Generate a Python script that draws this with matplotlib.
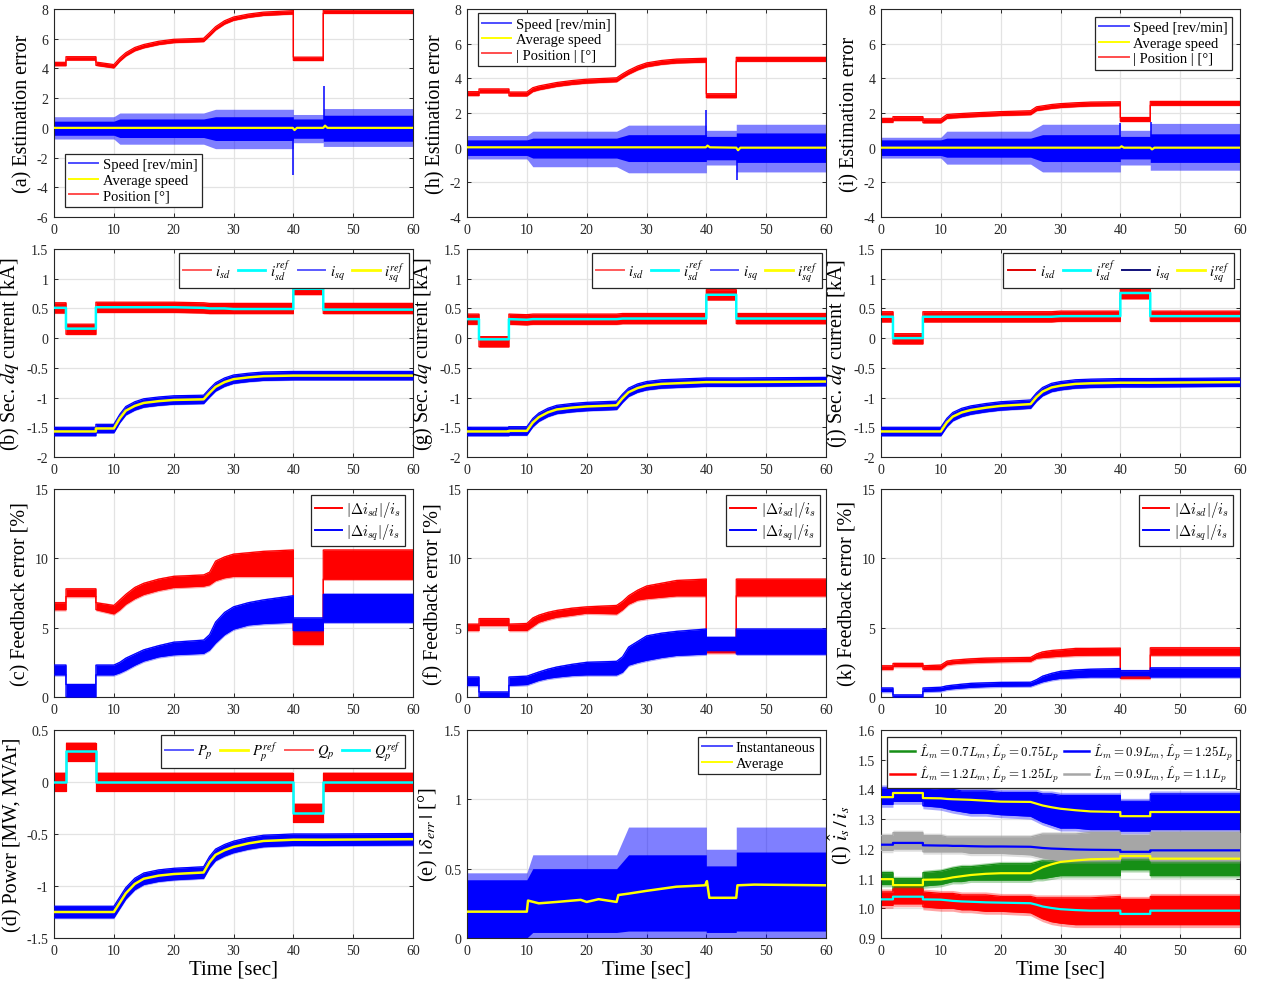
import matplotlib
matplotlib.use("Agg")
import matplotlib.pyplot as plt
from matplotlib.lines import Line2D
from matplotlib.font_manager import FontProperties
import numpy as np

plt.rcParams["font.family"] = ["Liberation Serif", "DejaVu Serif"]
plt.rcParams["mathtext.fontset"] = "stix"
plt.rcParams["axes.unicode_minus"] = False

# ── colours ─────────────────────────────────────────────────────────────────
BLUE, RED, YEL, CYAN = "#0000ff", "#ff0000", "#ffff00", "#00ffff"
GREEN, GRAY = "#168f16", "#a6a6a6"
INK = "#262626"

# ── common time grid (steps at 2, 7, 40, 45 s; ramps from 10 and 25 s) ─────
T = [0, 2, 2, 7, 7, 10, 11, 12, 13.5, 15, 17.5, 20, 25, 26, 27, 28.5, 30, 32.5, 35, 40, 40, 45, 45, 60]

# ── (a)(h)(i) estimation error ──────────────────────────────────────────────
POS_A = [4.3, 4.3, 4.68, 4.68, 4.32, 4.15, 4.6, 4.95, 5.3, 5.5, 5.72, 5.85, 5.92, 6.3, 6.7, 7.1, 7.35, 7.55, 7.68, 7.78, 4.65, 4.65, 7.82, 7.82]
POS_H = [3.12, 3.12, 3.28, 3.28, 3.1, 3.1, 3.35, 3.45, 3.55, 3.65, 3.76, 3.84, 3.92, 4.15, 4.35, 4.6, 4.78, 4.92, 5.0, 5.05, 3.0, 3.0, 5.1, 5.1]
POS_I = [1.58, 1.58, 1.68, 1.68, 1.55, 1.55, 1.8, 1.83, 1.86, 1.89, 1.93, 1.97, 2.02, 2.25, 2.3, 2.38, 2.43, 2.48, 2.52, 2.54, 1.63, 1.63, 2.56, 2.56]
POS_HW = 0.11

# speed-error envelopes: dense core and sparse spike envelope
TS = [0, 10, 11, 25, 27, 40, 40, 45, 45, 60]
SPD_A_CORE = ([-0.5, -0.5, -0.65, -0.65, -0.85, -0.85, -0.7, -0.7, -0.9, -0.9],
              [0.45, 0.45, 0.6, 0.6, 0.75, 0.75, 0.6, 0.6, 0.85, 0.85])
SPD_A_OUT = ([-0.75, -0.75, -1.1, -1.1, -1.4, -1.4, -1.0, -1.0, -1.25, -1.25],
             [0.75, 0.75, 1.0, 1.0, 1.25, 1.25, 0.9, 0.9, 1.3, 1.3])
SPD_H_CORE = ([-0.45, -0.45, -0.6, -0.6, -0.8, -0.8, -0.7, -0.7, -0.85, -0.85],
              [0.45, 0.45, 0.55, 0.55, 0.75, 0.75, 0.65, 0.65, 0.85, 0.85])
SPD_H_OUT = ([-0.65, -0.65, -1.1, -1.1, -1.45, -1.45, -1.0, -1.0, -1.4, -1.4],
             [0.7, 0.7, 0.95, 0.95, 1.3, 1.3, 1.0, 1.0, 1.35, 1.35])
SPD_I_CORE = ([-0.45, -0.45, -0.55, -0.55, -0.8, -0.8, -0.65, -0.65, -0.85, -0.85],
              [0.45, 0.45, 0.55, 0.55, 0.75, 0.75, 0.65, 0.65, 0.8, 0.8])
SPD_I_OUT = ([-0.6, -0.6, -0.95, -0.95, -1.4, -1.4, -1.0, -1.0, -1.3, -1.3],
             [0.6, 0.6, 0.95, 0.95, 1.35, 1.35, 1.0, 1.0, 1.4, 1.4])
SPIKE_A = ([40.0, 45.2], [-3.2, 2.8])
SPIKE_H = ([40.0, 45.1], [2.2, -1.85])
SPIKE_I = ([40.0, 45.1], [1.4, 1.5])

AVG_T = [0, 39.9, 40.2, 40.6, 45.0, 45.3, 45.7, 60]
AVG_A = [0, 0, -0.15, 0, 0, 0.15, 0, 0]
AVG_H = [0.02, 0.02, 0.12, 0.02, 0.0, -0.15, 0.0, 0.0]
AVG_I = [0, 0, 0.08, 0, 0, -0.1, 0, 0]

# ── (b)(g)(j) secondary dq currents ─────────────────────────────────────────
ISD_REF_B = [0.51, 0.51, 0.16, 0.16, 0.52, 0.52, 0.52, 0.52, 0.52, 0.52, 0.52, 0.52, 0.51, 0.5, 0.5, 0.5, 0.49, 0.49, 0.49, 0.49, 0.83, 0.83, 0.48, 0.48]
ISD_B = [0.51, 0.51, 0.15, 0.15, 0.52, 0.52, 0.52, 0.52, 0.52, 0.52, 0.52, 0.52, 0.51, 0.5, 0.5, 0.5, 0.5, 0.5, 0.5, 0.5, 0.82, 0.82, 0.5, 0.5]
ISQ_REF_B = [-1.57, -1.57, -1.57, -1.57, -1.52, -1.52, -1.35, -1.22, -1.14, -1.09, -1.06, -1.04, -1.03, -0.92, -0.82, -0.74, -0.69, -0.66, -0.64, -0.63, -0.63, -0.63, -0.63, -0.63]

ISD_REF_G = [0.32, 0.32, -0.02, -0.02, 0.32, 0.31, 0.32, 0.32, 0.32, 0.32, 0.32, 0.32, 0.32, 0.33, 0.33, 0.33, 0.33, 0.33, 0.33, 0.33, 0.73, 0.73, 0.33, 0.33]
ISD_G = [0.32, 0.32, -0.06, -0.06, 0.32, 0.31, 0.32, 0.32, 0.32, 0.32, 0.32, 0.32, 0.32, 0.33, 0.33, 0.33, 0.33, 0.33, 0.33, 0.33, 0.73, 0.73, 0.33, 0.33]
ISQ_REF_G = [-1.57, -1.57, -1.57, -1.57, -1.56, -1.56, -1.42, -1.33, -1.25, -1.2, -1.17, -1.15, -1.13, -1.01, -0.91, -0.84, -0.8, -0.77, -0.76, -0.74, -0.74, -0.74, -0.74, -0.73]

ISD_REF_J = [0.36, 0.36, 0.0, 0.0, 0.36, 0.36, 0.36, 0.36, 0.36, 0.36, 0.36, 0.36, 0.36, 0.36, 0.36, 0.36, 0.37, 0.37, 0.37, 0.37, 0.76, 0.76, 0.37, 0.37]
ISD_J = [0.36, 0.36, -0.01, -0.01, 0.36, 0.36, 0.36, 0.36, 0.36, 0.36, 0.36, 0.36, 0.36, 0.36, 0.36, 0.36, 0.37, 0.37, 0.37, 0.37, 0.75, 0.75, 0.37, 0.37]
ISQ_REF_J = [-1.57, -1.57, -1.57, -1.57, -1.57, -1.57, -1.42, -1.32, -1.25, -1.21, -1.17, -1.14, -1.11, -0.99, -0.9, -0.83, -0.8, -0.77, -0.76, -0.75, -0.75, -0.75, -0.75, -0.74]
ISD_HW, ISQ_HW = 0.085, 0.07

# ── (c)(f)(k) feedback error bands (lower, upper) ───────────────────────────
DSD_C = ([6.3, 6.3, 7.25, 7.25, 6.3, 6.0, 6.3, 6.7, 7.1, 7.4, 7.7, 7.9, 8.0, 8.1, 8.4, 8.6, 8.7, 8.7, 8.7, 8.7, 3.8, 3.8, 8.5, 8.5],
         [6.8, 6.8, 7.8, 7.8, 6.8, 6.6, 7.0, 7.4, 7.9, 8.2, 8.5, 8.7, 8.8, 9.0, 9.8, 10.1, 10.3, 10.4, 10.5, 10.6, 4.8, 4.8, 10.6, 10.6])
DSQ_C = ([1.6, 1.6, 0.0, 0.0, 1.6, 1.6, 1.75, 1.95, 2.3, 2.6, 2.9, 3.05, 3.15, 3.4, 3.9, 4.5, 4.9, 5.2, 5.3, 5.4, 4.8, 4.8, 5.4, 5.4],
         [2.3, 2.3, 0.9, 0.9, 2.3, 2.3, 2.5, 2.8, 3.1, 3.4, 3.7, 3.95, 4.1, 4.5, 5.4, 6.1, 6.5, 6.8, 7.0, 7.3, 5.7, 5.7, 7.4, 7.4])
DSD_F = ([4.8, 4.8, 5.16, 5.16, 4.8, 4.8, 5.1, 5.4, 5.6, 5.76, 5.9, 6.05, 6.0, 6.3, 6.7, 7.0, 7.1, 7.2, 7.3, 7.3, 3.2, 3.2, 7.3, 7.3],
         [5.25, 5.25, 5.65, 5.65, 5.25, 5.3, 5.7, 5.9, 6.1, 6.24, 6.4, 6.5, 6.6, 6.9, 7.3, 7.7, 8.0, 8.2, 8.4, 8.5, 3.4, 3.4, 8.5, 8.5])
DSQ_F = ([0.84, 0.84, 0.0, 0.0, 0.84, 0.9, 1.05, 1.2, 1.35, 1.44, 1.55, 1.6, 1.6, 1.8, 2.3, 2.5, 2.65, 2.85, 3.0, 3.1, 3.36, 3.36, 3.1, 3.1],
         [1.44, 1.44, 0.36, 0.36, 1.44, 1.5, 1.65, 1.8, 2.0, 2.16, 2.35, 2.5, 2.57, 2.9, 3.6, 4.0, 4.4, 4.6, 4.73, 4.9, 4.3, 4.3, 4.9, 4.9])
DSD_K = ([2.0, 2.0, 2.2, 2.2, 2.0, 2.0, 2.33, 2.4, 2.45, 2.48, 2.52, 2.55, 2.58, 2.8, 2.85, 2.9, 2.95, 3.0, 3.02, 3.03, 1.35, 1.35, 3.03, 3.03],
         [2.25, 2.25, 2.42, 2.42, 2.25, 2.3, 2.58, 2.65, 2.7, 2.75, 2.8, 2.82, 2.85, 3.1, 3.25, 3.35, 3.4, 3.5, 3.5, 3.52, 1.6, 1.6, 3.55, 3.55])
DSQ_K = ([0.4, 0.4, 0.0, 0.0, 0.4, 0.45, 0.55, 0.6, 0.65, 0.7, 0.75, 0.78, 0.8, 0.95, 1.1, 1.25, 1.35, 1.4, 1.45, 1.45, 1.55, 1.55, 1.45, 1.45],
         [0.65, 0.65, 0.15, 0.15, 0.65, 0.7, 0.8, 0.85, 0.92, 0.98, 1.02, 1.05, 1.06, 1.25, 1.5, 1.7, 1.85, 1.95, 2.0, 2.05, 1.9, 1.9, 2.1, 2.1])

# ── (d) power ───────────────────────────────────────────────────────────────
QP_REF = [0, 0, 0.3, 0.3, 0, 0, 0, 0, 0, 0, 0, 0, 0, 0, 0, 0, 0, 0, 0, 0, -0.3, -0.3, 0, 0]
QP = [0, 0, 0.29, 0.29, 0, 0, 0, 0, 0, 0, 0, 0, 0, 0, 0, 0, 0, 0, 0, 0, -0.3, -0.3, 0, 0]
PP_REF = [-1.25, -1.25, -1.25, -1.25, -1.25, -1.25, -1.16, -1.07, -0.98, -0.93, -0.9, -0.885, -0.87, -0.77, -0.7, -0.656, -0.624, -0.59, -0.567, -0.555, -0.555, -0.555, -0.555, -0.55]
QP_HW, PP_HW = 0.085, 0.055

# ── (e) load angle error ────────────────────────────────────────────────────
DELTA_CORE = ([0, 0, 0.04, 0.04, 0.05, 0.05, 0.04, 0.04, 0.05, 0.05],
              [0.42, 0.42, 0.5, 0.5, 0.6, 0.6, 0.52, 0.52, 0.62, 0.62])
DELTA_OUT = ([0, 0, 0, 0, 0, 0, 0, 0, 0, 0],
             [0.47, 0.47, 0.6, 0.6, 0.8, 0.8, 0.64, 0.64, 0.8, 0.8])
DELTA_AVG_T = [0, 10, 10.2, 12, 15, 19, 20, 22, 25, 25.3, 27, 30, 35, 39.8, 40.1, 40.5, 45, 45.2, 48, 60]
DELTA_AVG = [0.19, 0.19, 0.27, 0.25, 0.26, 0.275, 0.26, 0.28, 0.26, 0.31, 0.32, 0.34, 0.37, 0.38, 0.41, 0.29, 0.29, 0.38, 0.385, 0.38]

# ── (l) current ratio for mismatched inductances ────────────────────────────
GREEN_L = ([1.08, 1.08, 1.06, 1.06, 1.075, 1.08, 1.085, 1.09, 1.09, 1.095, 1.095, 1.095, 1.095, 1.1, 1.1, 1.105, 1.11, 1.11, 1.11, 1.11, 1.13, 1.13, 1.11, 1.11],
           [1.12, 1.12, 1.1, 1.1, 1.12, 1.125, 1.13, 1.135, 1.14, 1.14, 1.145, 1.15, 1.15, 1.155, 1.16, 1.16, 1.165, 1.165, 1.165, 1.165, 1.17, 1.17, 1.16, 1.16])
BLUE_L = ([1.35, 1.35, 1.36, 1.36, 1.345, 1.34, 1.335, 1.33, 1.325, 1.32, 1.32, 1.315, 1.31, 1.3, 1.29, 1.28, 1.27, 1.27, 1.265, 1.265, 1.26, 1.26, 1.265, 1.265],
          [1.405, 1.405, 1.42, 1.42, 1.405, 1.4, 1.4, 1.4, 1.395, 1.395, 1.395, 1.39, 1.39, 1.39, 1.385, 1.385, 1.38, 1.38, 1.38, 1.38, 1.36, 1.36, 1.385, 1.385])
RED_L = ([1.01, 1.01, 1.015, 1.015, 1.005, 1.0, 1.0, 1.0, 0.995, 0.995, 0.99, 0.99, 0.985, 0.975, 0.965, 0.955, 0.95, 0.945, 0.945, 0.945, 0.945, 0.945, 0.945, 0.945],
         [1.055, 1.055, 1.065, 1.065, 1.055, 1.05, 1.05, 1.05, 1.045, 1.045, 1.045, 1.04, 1.04, 1.035, 1.035, 1.035, 1.035, 1.035, 1.035, 1.04, 1.03, 1.03, 1.04, 1.04])
GRAY_L = ([1.195, 1.195, 1.2, 1.2, 1.19, 1.19, 1.19, 1.19, 1.19, 1.185, 1.185, 1.185, 1.18, 1.175, 1.17, 1.165, 1.16, 1.16, 1.16, 1.16, 1.17, 1.17, 1.16, 1.16],
          [1.245, 1.245, 1.255, 1.255, 1.245, 1.245, 1.24, 1.24, 1.24, 1.24, 1.24, 1.24, 1.24, 1.245, 1.25, 1.25, 1.25, 1.25, 1.255, 1.255, 1.245, 1.245, 1.255, 1.255])
REF_TOP_L = [1.374, 1.374, 1.388, 1.388, 1.371, 1.37, 1.368, 1.367, 1.366, 1.365, 1.362, 1.359, 1.358, 1.352, 1.346, 1.34, 1.335, 1.33, 1.326, 1.324, 1.31, 1.31, 1.324, 1.324]
REF_GRAY_L = [1.214, 1.214, 1.22, 1.22, 1.212, 1.211, 1.211, 1.21, 1.21, 1.209, 1.208, 1.208, 1.207, 1.205, 1.203, 1.201, 1.2, 1.198, 1.197, 1.196, 1.19, 1.19, 1.195, 1.195]
REF_GREEN_L = [1.098, 1.098, 1.078, 1.078, 1.096, 1.097, 1.1, 1.104, 1.108, 1.112, 1.116, 1.118, 1.118, 1.128, 1.138, 1.148, 1.156, 1.161, 1.165, 1.167, 1.176, 1.176, 1.167, 1.167]
REF_RED_L = [1.03, 1.03, 1.039, 1.039, 1.03, 1.029, 1.027, 1.025, 1.023, 1.022, 1.02, 1.019, 1.017, 1.012, 1.006, 1.001, 0.997, 0.994, 0.992, 0.992, 0.981, 0.981, 0.992, 0.992]

# ── layout (pixel boxes of the original figure) ─────────────────────────────
W, H = 1266, 987
COL_X = [54, 467, 881]
ROW_TOP = [10, 250, 490, 731]
AX_W, AX_H = 359, 208

fig = plt.figure(figsize=(W / 100, H / 100), dpi=100)
fig.patch.set_facecolor("white")


def place(col, row):
    x, top = COL_X[col], ROW_TOP[row]
    return fig.add_axes([x / W, 1 - (top + AX_H) / H, AX_W / W, AX_H / H])


def style(ax, ylim, yticks, ylabel, fmt="%g", xlabel=False):
    ax.set_xlim(0, 60)
    ax.set_xticks(range(0, 61, 10))
    ax.set_ylim(*ylim)
    ax.set_yticks(yticks)
    ax.set_yticklabels([fmt % v for v in yticks])
    ax.grid(True, color="#e3e3e3", linewidth=0.9)
    ax.set_axisbelow(True)
    ax.tick_params(direction="in", length=3, width=0.7, colors=INK,
                   labelsize=10, top=True, right=True, pad=4)
    for sp in ax.spines.values():
        sp.set_edgecolor(INK)
        sp.set_linewidth(0.8)
    ax.set_ylabel(ylabel, fontsize=14.5, color="black", labelpad=3)
    if xlabel:
        ax.set_xlabel("Time [sec]", fontsize=15, color="black", labelpad=2)


def band(ax, t, lo, hi, color, halo=0.0, z=2):
    lo, hi = np.asarray(lo, float), np.asarray(hi, float)
    if halo:
        ax.fill_between(t, lo - halo, hi + halo, color=color, alpha=0.35, linewidth=0, zorder=z)
    ax.fill_between(t, lo, hi, color=color, linewidth=0, zorder=z)
    # edge traces also draw the switching transients at the step instants
    ax.plot(t, lo, color=color, linewidth=0.9, zorder=z)
    ax.plot(t, hi, color=color, linewidth=0.9, zorder=z)


def centred(ax, t, c, hw, color, halo=0.0, z=2):
    c = np.asarray(c, float)
    band(ax, t, c - hw, c + hw, color, halo, z)


def spiky(ax, t, core, out, color):
    # sparse spike envelope in a lighter shade, dense core solid
    ax.fill_between(t, out[0], out[1], color=color, alpha=0.5, linewidth=0, zorder=2)
    ax.fill_between(t, core[0], core[1], color=color, linewidth=0, zorder=2)


def legend(ax, handles, labels, loc, anchor, ncol=1, math_cm=False, size=10.5,
           hlen=2.0, colsp=0.6):
    prop = FontProperties(family="Liberation Serif", size=size,
                          math_fontfamily="cm" if math_cm else "stix")
    lg = ax.legend(handles, labels, loc=loc, bbox_to_anchor=anchor, ncol=ncol,
                   prop=prop, frameon=True, fancybox=False, framealpha=1,
                   edgecolor=INK, borderaxespad=0, borderpad=0.3,
                   labelspacing=0.15, handlelength=hlen, handletextpad=0.3,
                   columnspacing=colsp)
    lg.get_frame().set_linewidth(0.9)
    lg.set_zorder(10)
    return lg


def proxy(color, lw=1.4):
    return Line2D([], [], color=color, linewidth=lw)


# ── row 1: estimation error ────────────────────────────────────────────────
est = [
    (0, "(a) Estimation error", (-6, 8), range(-6, 9, 2), POS_A, SPD_A_CORE, SPD_A_OUT, SPIKE_A, AVG_A,
     "Position [°]", ("lower left", (0.03, 0.05))),
    (1, "(h) Estimation error", (-4, 8), range(-4, 9, 2), POS_H, SPD_H_CORE, SPD_H_OUT, SPIKE_H, AVG_H,
     "| Position | [°]", ("upper left", (0.03, 0.98))),
    (2, "(i) Estimation error", (-4, 8), range(-4, 9, 2), POS_I, SPD_I_CORE, SPD_I_OUT, SPIKE_I, AVG_I,
     "| Position | [°]", ("upper right", (0.978, 0.962))),
]
for col, lab, ylim, yt, pos, core, out, spike, avg, plab, (loc, anc) in est:
    ax = place(col, 0)
    spiky(ax, TS, core, out, BLUE)
    ax.vlines(spike[0], 0, spike[1], color=BLUE, linewidth=1.1, zorder=2)
    ax.plot(AVG_T, avg, color=YEL, linewidth=1.6, zorder=3)
    centred(ax, T, pos, POS_HW, RED, halo=0.04)
    style(ax, ylim, list(yt), lab)
    legend(ax, [proxy("#4d4dff"), proxy(YEL), proxy("#ff4d4d")],
           ["Speed [rev/min]", "Average speed", plab], loc, anc)

# ── row 2: dq currents ─────────────────────────────────────────────────────
cur = [
    (0, "(b)", ISD_B, ISD_REF_B, ISQ_REF_B, (0.989, 0.981), ("#ff5a5a", "#5a5aff")),
    (1, "(g)", ISD_G, ISD_REF_G, ISQ_REF_G, (0.989, 0.981), ("#ff5a5a", "#5a5aff")),
    (2, "(j)", ISD_J, ISD_REF_J, ISQ_REF_J, (0.983, 0.981), ("#e00000", "#10107a")),
]
for col, tag, isd, isd_ref, isq_ref, anc, (lc_d, lc_q) in cur:
    ax = place(col, 1)
    centred(ax, T, isd, ISD_HW, RED, halo=0.012)
    ax.plot(T, isd_ref, color=CYAN, linewidth=1.8, zorder=3)
    centred(ax, T, isq_ref, ISQ_HW, BLUE, halo=0.012, z=3)
    ax.plot(T, isq_ref, color=YEL, linewidth=1.8, zorder=4)
    style(ax, (-2, 1.5), [-2, -1.5, -1, -0.5, 0, 0.5, 1, 1.5], tag + r" Sec. $dq$ current [kA]")
    legend(ax, [proxy(lc_d), proxy(CYAN, 2), proxy(lc_q), proxy(YEL, 2)],
           [r"$i_{sd}$", r"$i_{sd}^{ref}$", r"$i_{sq}$", r"$i_{sq}^{ref}$"],
           "upper right", anc, ncol=4, hlen=1.9, colsp=0.5)

# ── row 3: feedback error ──────────────────────────────────────────────────
fb = [
    (0, "(c)", DSD_C, DSQ_C, (0.978, 0.971)),
    (1, "(f)", DSD_F, DSQ_F, (0.983, 0.971)),
    (2, "(k)", DSD_K, DSQ_K, (0.98, 0.971)),
]
for col, tag, dsd, dsq, anc in fb:
    ax = place(col, 2)
    band(ax, T, dsd[0], dsd[1], RED, halo=0.1)
    band(ax, T, dsq[0], dsq[1], BLUE, halo=0.1, z=3)
    style(ax, (0, 15), [0, 5, 10, 15], tag + " Feedback error [%]")
    legend(ax, [proxy(RED), proxy(BLUE)],
           [r"$|\Delta i_{sd}|/i_s$", r"$|\Delta i_{sq}|/i_s$"],
           "upper right", anc, math_cm=True, hlen=1.8)

# ── (d) power ──────────────────────────────────────────────────────────────
ax = place(0, 3)
centred(ax, T, QP, QP_HW, RED, halo=0.01)
ax.plot(T, QP_REF, color=CYAN, linewidth=1.8, zorder=3)
centred(ax, T, PP_REF, PP_HW, BLUE, halo=0.01, z=3)
ax.plot(T, PP_REF, color=YEL, linewidth=1.8, zorder=4)
style(ax, (-1.5, 0.5), [-1.5, -1, -0.5, 0, 0.5], "(d) Power [MW, MVAr]", xlabel=True)
legend(ax, [proxy("#5a5aff"), proxy(YEL, 2), proxy("#ff5a5a"), proxy(CYAN, 2)],
       [r"$P_p$", r"$P_p^{ref}$", r"$Q_p$", r"$Q_p^{ref}$"],
       "upper right", (0.978, 0.976), ncol=4, hlen=1.9, colsp=0.5)

# ── (e) load angle error ───────────────────────────────────────────────────
ax = place(1, 3)
spiky(ax, TS, DELTA_CORE, DELTA_OUT, BLUE)
ax.plot(DELTA_AVG_T, DELTA_AVG, color=YEL, linewidth=1.8, zorder=3)
style(ax, (0, 1.5), [0, 0.5, 1, 1.5], r"(e) $|\,\delta_{err}\,|$ [°]", xlabel=True)
legend(ax, [proxy("#4d4dff"), proxy(YEL)], ["Instantaneous", "Average"],
       "upper right", (0.983, 0.967))

# ── (l) current ratio ──────────────────────────────────────────────────────
ax = place(2, 3)
band(ax, T, GREEN_L[0], GREEN_L[1], GREEN, halo=0.008)
band(ax, T, BLUE_L[0], BLUE_L[1], BLUE, halo=0.01)
band(ax, T, RED_L[0], RED_L[1], RED, halo=0.01)
band(ax, T, GRAY_L[0], GRAY_L[1], GRAY, halo=0.008, z=3)
ax.plot(T, REF_TOP_L, color=YEL, linewidth=1.6, zorder=4)
ax.plot(T, REF_GRAY_L, color=BLUE, linewidth=1.6, zorder=4)
ax.plot(T, REF_GREEN_L, color=YEL, linewidth=1.6, zorder=4)
ax.plot(T, REF_RED_L, color=CYAN, linewidth=1.6, zorder=4)
style(ax, (0.9, 1.6), [0.9, 1.0, 1.1, 1.2, 1.3, 1.4, 1.5, 1.6], r"(l) $\hat{i}_s\,/\,i_s$",
      fmt="%.1f", xlabel=True)
legend(ax, [proxy(GREEN, 1.8), proxy(RED, 1.8), proxy(BLUE, 1.8), proxy(GRAY, 1.8)],
       [r"$\hat{L}_m = 0.7L_m, \hat{L}_p = 0.75L_p$", r"$\hat{L}_m = 1.2L_m, \hat{L}_p = 1.25L_p$",
        r"$\hat{L}_m = 0.9L_m, \hat{L}_p = 1.25L_p$", r"$\hat{L}_m = 0.9L_m, \hat{L}_p = 1.1L_p$"],
       "upper right", (0.99, 0.967), ncol=2, math_cm=True, size=9.3, hlen=1.9, colsp=0.4)

fig.savefig("out.png", dpi=100, facecolor="white")
